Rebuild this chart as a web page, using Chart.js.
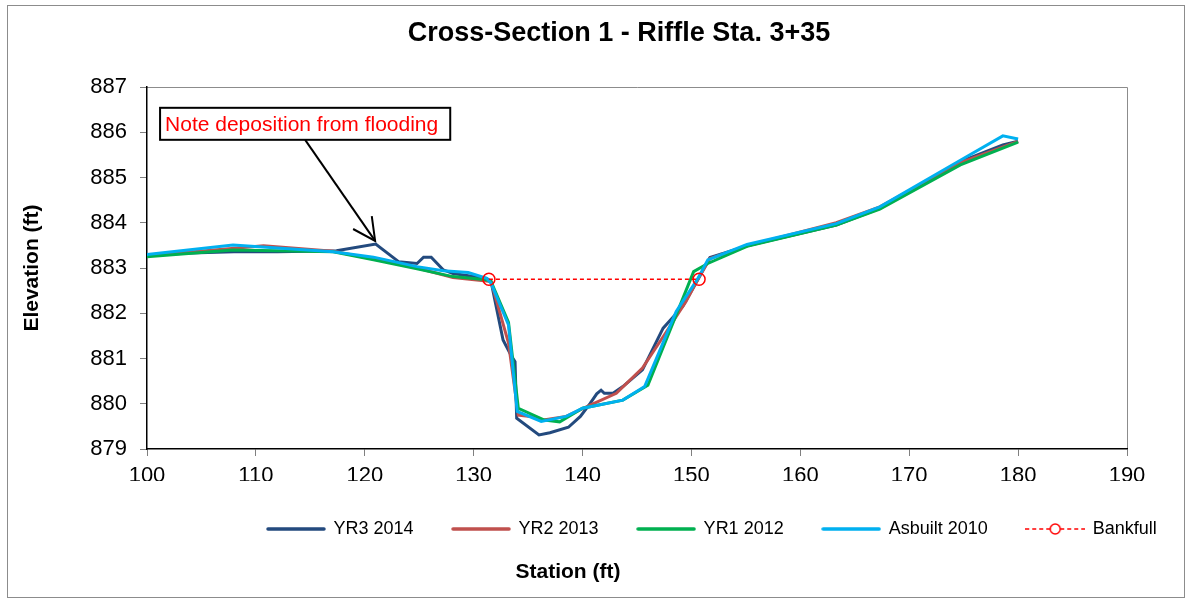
<!DOCTYPE html>
<html>
<head>
<meta charset="utf-8">
<title>Cross-Section 1 - Riffle Sta. 3+35</title>
<script src="https://cdn.jsdelivr.net/npm/chart.js@4.4.1/dist/chart.umd.min.js"></script>
<style>
    body { margin: 0; background: #fff; }
    canvas { display: block; }
</style>
</head>
<body>
<canvas id="xs-chart" width="1191" height="600"></canvas>
<script>
// данные сечения (станция, отметка)
const yr3Station = [100, 104, 108, 112, 117.4, 121.0, 123.1, 124.8, 125.4, 126.1, 127.2, 128.1, 131.2, 131.6, 132.7, 133.5, 133.8, 133.95, 136.0, 137.0, 138.7, 139.8, 140.7, 141.3, 141.7, 142.0, 142.8, 143.7, 145.5, 147.4, 149.2, 150.6, 151.7, 155.4, 163.3, 167.3, 174.7, 178.6, 180.0];
const yr3Elev = [883.28, 883.33, 883.36, 883.36, 883.38, 883.53, 883.14, 883.10, 883.24, 883.24, 882.96, 882.88, 882.77, 882.70, 881.41, 881.04, 880.93, 879.68, 879.31, 879.36, 879.48, 879.72, 880.01, 880.22, 880.30, 880.23, 880.23, 880.38, 880.75, 881.67, 882.15, 882.75, 883.23, 883.51, 883.95, 884.32, 885.35, 885.72, 885.80];

const yr2Station = [100, 110.7, 117.1, 120.8, 124.8, 128.1, 131.6, 133.2, 134.1, 135.2, 136.4, 138.5, 140.7, 143.1, 145.5, 147.4, 149.5, 150.6, 151.7, 155.4, 163.3, 167.3, 174.7, 180.0];
const yr2Elev = [883.27, 883.49, 883.37, 883.20, 883.00, 882.79, 882.70, 881.34, 879.75, 879.72, 879.64, 879.72, 879.97, 880.23, 880.79, 881.48, 882.26, 882.75, 883.21, 883.51, 884.00, 884.35, 885.33, 885.80];

const yr1Station = [100, 107.9, 117.1, 120.8, 124.8, 128.1, 131.2, 131.6, 133.2, 134.1, 136.5, 137.9, 140.0, 143.7, 146.0, 150.2, 151.5, 155.1, 163.3, 167.3, 174.7, 180.0];
const yr1Elev = [883.25, 883.40, 883.36, 883.18, 882.98, 882.81, 882.74, 882.70, 881.80, 879.90, 879.64, 879.60, 879.90, 880.08, 880.41, 882.92, 883.10, 883.48, 883.95, 884.30, 885.28, 885.78];

const asbuiltStation = [100, 107.9, 117.1, 120.8, 124.8, 127.2, 129.5, 131.2, 131.6, 133.2, 134.0, 136.2, 138.5, 140.0, 143.7, 145.7, 148.6, 150.6, 151.5, 155.1, 163.3, 167.3, 174.7, 178.6, 180.0];
const asbuiltElev = [883.30, 883.51, 883.36, 883.24, 883.03, 882.94, 882.90, 882.77, 882.66, 881.74, 879.83, 879.61, 879.72, 879.90, 880.08, 880.38, 882.04, 882.77, 883.18, 883.52, 883.98, 884.35, 885.38, 885.92, 885.85];

const bankfullStation = [131.4, 150.7];
const bankfullElev = [882.75, 882.75];

const seriesNames = ['YR3 2014', 'YR2 2013', 'YR1 2012', 'Asbuilt 2010', 'Bankfull'];
const seriesColors = ['#234A7E', '#C0504D', '#00B050', '#00B0F0', '#FF0000'];

const chartTitle = 'Cross-Section 1 - Riffle Sta. 3+35';
const xTitle = 'Station (ft)';
const yTitle = 'Elevation (ft)';

// подпись со стрелкой
const noteText = 'Note deposition from flooding';
const noteBoxAt = { station: 101.2, elev: 886.54 };
const noteTipAt = { station: 120.95, elev: 883.6 };

const FONT = "'Liberation Sans', Arial, sans-serif";

function pts(xs, ys) {
    return xs.map((x, i) => ({ x: x, y: ys[i] }));
}

// картинка для легенды
function legendSwatch(color, dashed) {
    const c = document.createElement('canvas');
    c.width = 60;
    c.height = 14;
    const g = c.getContext('2d');
    g.strokeStyle = color;
    if (dashed) {
        g.lineWidth = 1.5;
        g.setLineDash([4, 3]);
        g.beginPath();
        g.moveTo(0, 7);
        g.lineTo(60, 7);
        g.stroke();
        g.setLineDash([]);
        g.beginPath();
        g.arc(30, 7, 5, 0, Math.PI * 2);
        g.fillStyle = '#fff';
        g.fill();
        g.stroke();
    } else {
        g.lineWidth = 3.5;
        g.lineCap = 'round';
        g.beginPath();
        g.moveTo(2, 7);
        g.lineTo(58, 7);
        g.stroke();
    }
    return c;
}

const framePlugin = {
    id: 'frame',
    beforeDraw(chart) {
        const ctx = chart.ctx;
        ctx.save();
        ctx.fillStyle = '#fff';
        ctx.fillRect(0, 0, chart.width, chart.height);
        ctx.strokeStyle = '#8c8c8c';
        ctx.lineWidth = 1;
        ctx.strokeRect(7.5, 5.5, chart.width - 14, chart.height - 8);
        const a = chart.chartArea;
        ctx.strokeStyle = '#8c8c8c';
        ctx.beginPath();
        ctx.moveTo(a.left, a.top + 0.5);
        ctx.lineTo(a.right + 0.5, a.top + 0.5);
        ctx.lineTo(a.right + 0.5, a.bottom);
        ctx.stroke();
        ctx.restore();
    },
    afterLayout(chart) {
        // сдвиги как в исходной картинке Excel
        chart.legend.left = 228.5;
        chart.legend.right = 1400;
        chart.titleBlock.left = 0;
        chart.titleBlock.right = 1238;
        const sub = chart.boxes.find(b => b.options && b.options.text === xTitle);
        if (sub) {
            sub.left = 0;
            sub.right = 1136;
        }
    }
};

const notePlugin = {
    id: 'note',
    afterDatasetsDraw(chart) {
        const ctx = chart.ctx;
        const xs = chart.scales.x;
        const ys = chart.scales.y;
        const bx = xs.getPixelForValue(noteBoxAt.station);
        const by = ys.getPixelForValue(noteBoxAt.elev);
        ctx.save();
        ctx.font = '21px ' + FONT;
        const bw = ctx.measureText(noteText).width + 17;
        const bh = 32;
        const tx = xs.getPixelForValue(noteTipAt.station);
        const ty = ys.getPixelForValue(noteTipAt.elev);
        const sx = bx + bw / 2;
        const sy = by + bh;

        ctx.strokeStyle = '#000';
        ctx.lineWidth = 2;
        ctx.beginPath();
        ctx.moveTo(sx, sy);
        ctx.lineTo(tx, ty);
        ctx.stroke();
        const ang = Math.atan2(sy - ty, sx - tx);
        const head = 25;
        const spread = 27 * Math.PI / 180;
        ctx.beginPath();
        ctx.moveTo(tx + head * Math.cos(ang - spread), ty + head * Math.sin(ang - spread));
        ctx.lineTo(tx, ty);
        ctx.lineTo(tx + head * Math.cos(ang + spread), ty + head * Math.sin(ang + spread));
        ctx.stroke();

        ctx.fillStyle = '#fff';
        ctx.fillRect(bx, by, bw, bh);
        ctx.strokeRect(bx, by, bw, bh);
        ctx.fillStyle = '#FF0000';
        ctx.textBaseline = 'middle';
        ctx.textAlign = 'left';
        ctx.fillText(noteText, bx + 5, by + bh / 2 + 1);
        ctx.restore();
    }
};

const lineSets = [
    [yr3Station, yr3Elev],
    [yr2Station, yr2Elev],
    [yr1Station, yr1Elev],
    [asbuiltStation, asbuiltElev]
];

const datasets = lineSets.map((s, i) => ({
    label: seriesNames[i],
    data: pts(s[0], s[1]),
    borderColor: seriesColors[i],
    backgroundColor: seriesColors[i],
    borderWidth: 3,
    pointRadius: 0,
    tension: 0,
    fill: false,
    order: 4 - i
}));

datasets.push({
    label: seriesNames[4],
    data: pts(bankfullStation, bankfullElev),
    borderColor: seriesColors[4],
    backgroundColor: seriesColors[4],
    borderWidth: 1.5,
    borderDash: [4, 3],
    pointRadius: 6,
    pointStyle: 'circle',
    pointBorderColor: seriesColors[4],
    pointBackgroundColor: 'rgba(0,0,0,0)',
    pointBorderWidth: 1.5,
    fill: false,
    order: 0
});

new Chart(document.getElementById('xs-chart'), {
    type: 'line',
    data: { datasets: datasets },
    plugins: [framePlugin, notePlugin],
    options: {
        responsive: false,
        animation: false,
        layout: { padding: { left: 0, right: 64, top: 0, bottom: 0 } },
        scales: {
            x: {
                type: 'linear',
                min: 100,
                max: 190,
                afterFit: s => { s.height = 32; },
                ticks: { stepSize: 10, color: '#000', padding: 7, font: { family: FONT, size: 22 } },
                grid: { drawOnChartArea: false, drawTicks: true, tickLength: 7, color: '#808080' },
                border: { color: '#000', width: 1.5 },
                title: { display: false }
            },
            y: {
                min: 879,
                max: 887,
                afterFit: s => { s.width = 147; },
                ticks: { stepSize: 1, color: '#000', padding: 13, font: { family: FONT, size: 22 } },
                grid: { drawOnChartArea: false, drawTicks: true, tickLength: 7, color: '#808080' },
                border: { color: '#000', width: 1.5 },
                title: {
                    display: true,
                    text: yTitle,
                    color: '#000',
                    padding: { top: 20, bottom: 0 },
                    font: { family: FONT, size: 21, weight: 'bold' }
                }
            }
        },
        plugins: {
            title: {
                display: true,
                text: chartTitle,
                color: '#000',
                padding: { top: 17.8, bottom: 36.8 },
                font: { family: FONT, size: 27, weight: 'bold', lineHeight: 1.2 }
            },
            subtitle: {
                display: true,
                position: 'bottom',
                text: xTitle,
                color: '#000',
                padding: { top: 11.4, bottom: 15.4 },
                font: { family: FONT, size: 21, weight: 'bold', lineHeight: 1.2 }
            },
            legend: {
                position: 'bottom',
                align: 'start',
                labels: {
                    usePointStyle: true,
                    pointStyleWidth: 57,
                    padding: 39,
                    color: '#000',
                    font: { family: FONT, size: 18 },
                    generateLabels: chart => chart.data.datasets.map((ds, i) => ({
                        text: ds.label,
                        pointStyle: legendSwatch(ds.borderColor, i === 4),
                        fillStyle: ds.borderColor,
                        strokeStyle: ds.borderColor,
                        lineWidth: 0,
                        hidden: false,
                        datasetIndex: i
                    }))
                }
            },
            tooltip: { enabled: false }
        }
    }
});
</script>
</body>
</html>
